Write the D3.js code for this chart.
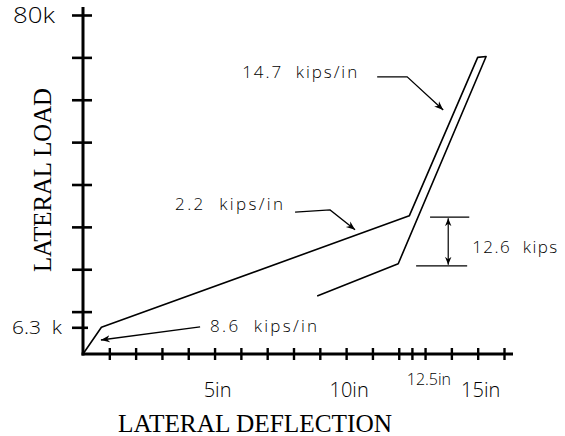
<!DOCTYPE html>
<html><head><meta charset="utf-8">
<script src="https://cdn.jsdelivr.net/npm/d3@7"></script>
<style>body{margin:0;background:#fff} svg{display:block}</style>
</head><body><svg id="c" width="565" height="436"></svg>
<script>
// ---- data ----
const deflection = [0, 0.7, 12.4, 15.0, 15.32, 11.98, 8.9];      // inches
const load       = [0, 6.3, 32.6, 70.0, 70.2, 21.3, 13.7];       // kips
const xTickValues = [1,2,3,4,5,6,7,8,9,10,11,12,12.5,13,14,15,16];
const xLabelValues = [5, 10, 15];
const xLabelTexts  = ["5in", "10in", "15in"];
const xSpecialValue = 12.5;
const xSpecialText  = "12.5in";
const yTickValues = [6.3,10,20,30,40,50,60,70,80];
const yLabelValues = [80, 6.3];
const yLabelTexts  = ["80k", "6.3  k"];
const stiffnessTexts = ["14.7  kips/in", "2.2  kips/in", "8.6  kips/in"];
const dropText = "12.6  kips";
const dropRange = [20.8, 32.3];
const xTitle = "LATERAL DEFLECTION";
const yTitle = "LATERAL LOAD";

const svg = d3.select("#c");
const x = d3.scaleLinear().domain([0, 16]).range([83, 504]);
const y = d3.scaleLinear().domain([0, 80]).range([354, 15]);
const SANS = "'Open Sans','DejaVu Sans',sans-serif";
const SERIF = "'Liberation Serif','DejaVu Serif',serif";

// arrowhead markers
const defs = svg.append("defs");
defs.append("marker").attr("id","ah").attr("viewBox","0 0 10 10")
  .attr("refX",10).attr("refY",5).attr("markerWidth",9).attr("markerHeight",9)
  .attr("markerUnits","userSpaceOnUse").attr("orient","auto")
  .append("path").attr("d","M0,1 L10,5 L0,9 L3,5 Z").attr("fill","#000");
defs.append("marker").attr("id","ahs").attr("viewBox","0 0 10 10")
  .attr("refX",10).attr("refY",5).attr("markerWidth",8).attr("markerHeight",8)
  .attr("markerUnits","userSpaceOnUse").attr("orient","auto-start-reverse")
  .append("path").attr("d","M0,1 L10,5 L0,9 L3,5 Z").attr("fill","#000");

// ---- axes ----
const yAxis = svg.append("g").attr("transform", `translate(${x(0)},0)`)
  .call(d3.axisLeft(y).tickValues(yTickValues).tickSize(11).tickFormat(""));
yAxis.select(".domain").remove();
yAxis.selectAll(".tick line").attr("x1", d => d === 6.3 ? 5 : 9).attr("x2", -11)
  .attr("stroke","#000").attr("stroke-width",2.6);
svg.append("line").attr("x1",x(0)).attr("x2",x(0)).attr("y1",7).attr("y2",y(0)+1.5)
  .attr("stroke","#000").attr("stroke-width",3);

const xAxis = svg.append("g").attr("transform", `translate(0,${y(0)})`)
  .call(d3.axisBottom(x).tickValues(xTickValues).tickSize(6).tickFormat(""));
xAxis.select(".domain").remove();
xAxis.selectAll(".tick line").attr("y1",-6).attr("y2",6)
  .attr("stroke","#000").attr("stroke-width",2.4);
svg.append("line").attr("x1",x(0)-1.5).attr("x2",513).attr("y1",y(0)).attr("y2",y(0))
  .attr("stroke","#000").attr("stroke-width",3);

// tick labels
svg.selectAll(".xl").data(xLabelValues).join("text")
  .attr("x", d => x(d) + 3).attr("y", 397).attr("text-anchor","middle")
  .attr("font-family",SANS).attr("font-weight",300).attr("font-size",20)
  .text((d,i) => xLabelTexts[i]);
svg.append("text").attr("x", x(xSpecialValue) + 17).attr("y", 385).attr("text-anchor","middle")
  .attr("font-family",SANS).attr("font-weight",300).attr("font-size",16)
  .text(xSpecialText);
svg.selectAll(".yl").data(yLabelValues).join("text")
  .attr("x", d => d === 80 ? 13 : 12).attr("y", d => y(d))
  .attr("dy", "0.36em")
  .attr("font-family",SANS).attr("font-weight",300)
  .attr("font-size", d => d === 80 ? 22 : 18)
  .attr("textLength", d => d === 80 ? 42 : 50).attr("lengthAdjust","spacingAndGlyphs")
  .style("white-space","pre")
  .text((d,i) => yLabelTexts[i]);

// axis titles
svg.append("text").attr("x", 118).attr("y", 432)
  .attr("font-family",SERIF).attr("font-size",25)
  .attr("textLength",274).attr("lengthAdjust","spacingAndGlyphs").text(xTitle);
svg.append("text").attr("transform","translate(51,180) rotate(-90)").attr("text-anchor","middle")
  .attr("font-family",SERIF).attr("font-size",25)
  .attr("textLength",184).attr("lengthAdjust","spacingAndGlyphs").text(yTitle);

// ---- hysteresis path ----
const pts = deflection.map((d,i) => [d, load[i]]);
svg.append("path").datum(pts)
  .attr("d", d3.line().x(d => x(d[0])).y(d => y(d[1])))
  .attr("fill","none").attr("stroke","#000").attr("stroke-width",1.6)
  .attr("stroke-linejoin","round");

// ---- annotations (positions in data units) ----
const ann = [
  {text: stiffnessTexts[0], tx: 6.05, ty: 65.1, w: 115, leader: [[11.18,65.4],[12.32,65.4],[13.69,57.6]]},
  {text: stiffnessTexts[1], tx: 3.5,  ty: 34.0, w: 108, leader: [[8.06,33.5],[9.39,34.0],[10.34,29.3]]},
  {text: stiffnessTexts[2], tx: 4.83, ty: 5.2,  w: 107, leader: [[4.45,6.4],[0.68,3.3]]}
];
const lineXY = d3.line().x(d => x(d[0])).y(d => y(d[1]));
ann.forEach(a => {
  svg.append("text").attr("x", x(a.tx)).attr("y", y(a.ty))
    .attr("font-family",SANS).attr("font-weight",300).attr("font-size",17)
    .attr("textLength",a.w).attr("lengthAdjust","spacing")
    .style("white-space","pre").text(a.text);
  svg.append("path").datum(a.leader).attr("d", lineXY)
    .attr("fill","none").attr("stroke","#000").attr("stroke-width",1.3)
    .attr("marker-end","url(#ah)");
});

// dimension for the drop
svg.append("line").attr("x1",x(13.19)).attr("x2",x(14.68)).attr("y1",y(dropRange[1])).attr("y2",y(dropRange[1]))
  .attr("stroke","#000").attr("stroke-width",1.3);
svg.append("line").attr("x1",x(12.66)).attr("x2",x(14.6)).attr("y1",y(dropRange[0])).attr("y2",y(dropRange[0]))
  .attr("stroke","#000").attr("stroke-width",1.3);
svg.append("line").attr("x1",x(13.88)).attr("x2",x(13.88)).attr("y1",y(dropRange[1])+1).attr("y2",y(dropRange[0])-1)
  .attr("stroke","#000").attr("stroke-width",1.2)
  .attr("marker-start","url(#ahs)").attr("marker-end","url(#ahs)");
svg.append("text").attr("x", x(14.79)).attr("y", 253)
  .attr("font-family",SANS).attr("font-weight",300).attr("font-size",17)
  .attr("textLength",85).attr("lengthAdjust","spacing")
  .style("white-space","pre").text(dropText);
</script></body></html>
